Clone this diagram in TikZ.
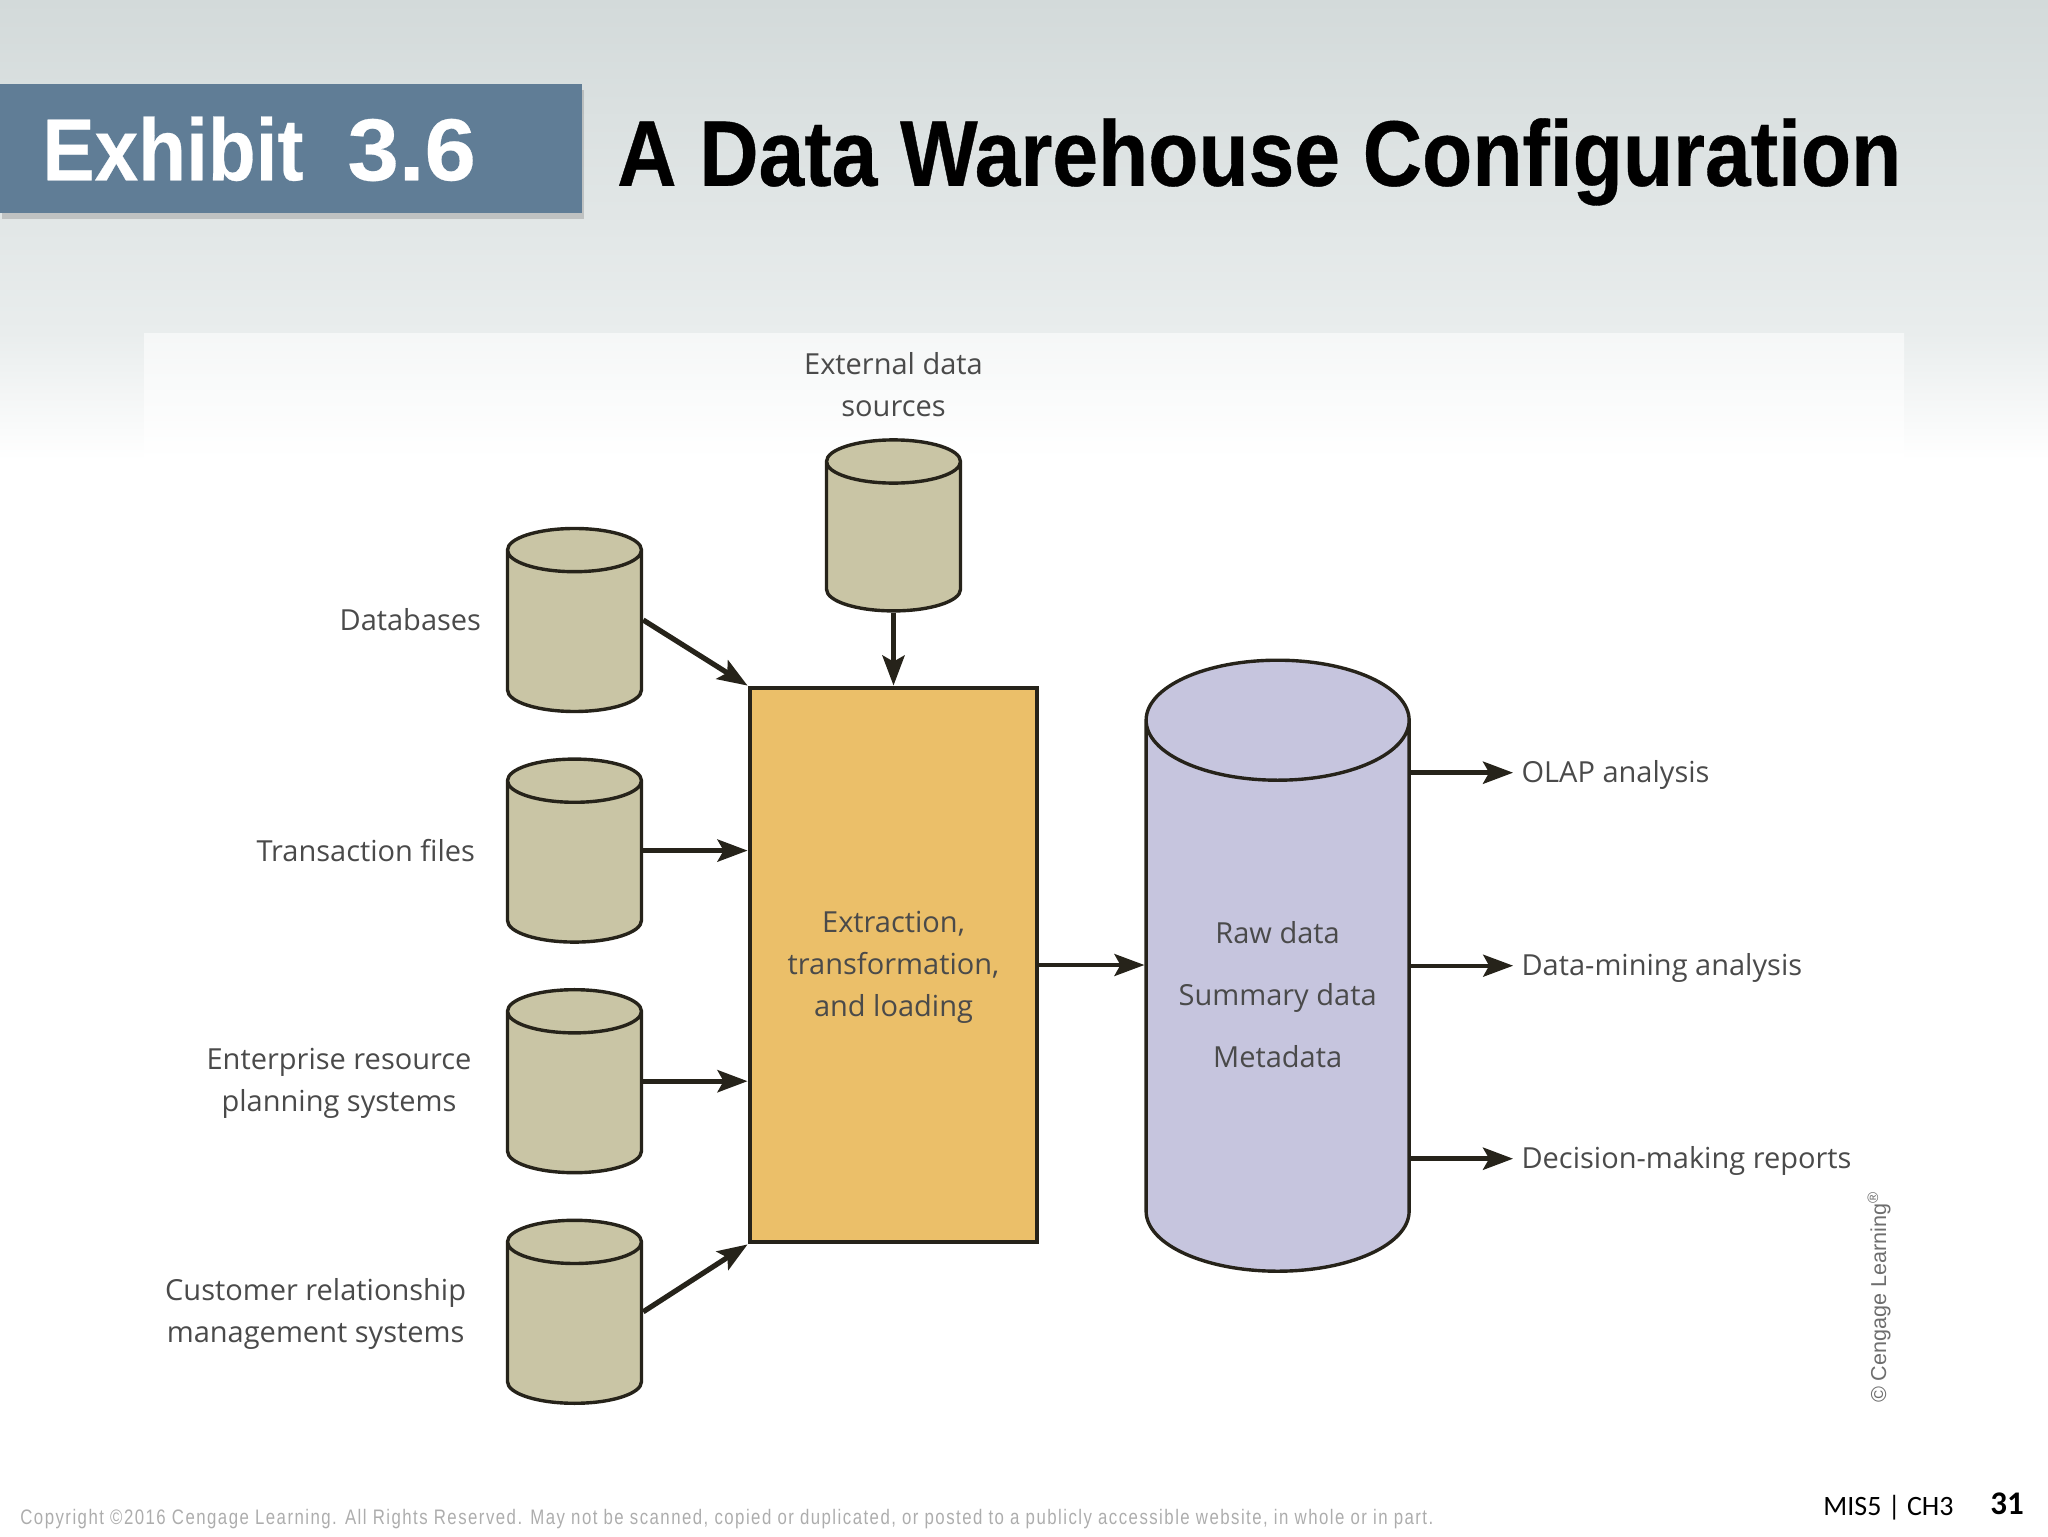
\documentclass[tikz,border=0pt]{standalone}
\usepackage{fontspec}
\setmainfont{Open Sans}
\newfontfamily\headfont[FakeStretch=0.8815,BoldFeatures={FakeBold=0.4}]{Liberation Sans}
\newfontfamily\tabfont[FakeStretch=0.89,BoldFeatures={FakeBold=0.3}]{Liberation Sans}
\newfontfamily\tabnumfont[FakeStretch=1.05,BoldFeatures={FakeBold=0.3}]{Liberation Sans}
\newfontfamily\notefont[FakeStretch=0.8,LetterSpace=7]{Liberation Sans}
\newfontfamily\pagefont{Carlito}
\usetikzlibrary{positioning,shapes.geometric,arrows.meta,shadows}

\definecolor{bgtop}{HTML}{D3DADA}
\definecolor{bgmid}{HTML}{E9EDED}
\definecolor{tabblue}{HTML}{607D96}
\definecolor{srcfill}{HTML}{C9C5A5}
\definecolor{etlfill}{HTML}{EBBF69}
\definecolor{whfill}{HTML}{C6C5DE}
\definecolor{inkdark}{HTML}{26231A}
\definecolor{lblgray}{HTML}{4A4A4A}

\tikzset{
  srccyl/.style={shape=cylinder, shape border rotate=90, draw=inkdark, line width=1.7pt,
    cylinder uses custom fill, cylinder body fill=srcfill, cylinder end fill=srcfill,
    shape aspect=3.6, inner sep=3pt, minimum width=67pt, minimum height=91.5pt},
  flow/.style={draw=inkdark, line width=2.6pt, -{Stealth[length=15pt,width=11pt,inset=3pt]}},
  thinflow/.style={flow, line width=1.9pt},
  lbl/.style={inner sep=0pt, text=lblgray, font=\fontsize{14.5}{21}\selectfont, align=center},
  outlbl/.style={lbl, text height=13pt, text depth=3.4pt},
}

\begin{document}
\begin{tikzpicture}[x=0.5pt, y=-0.5pt]

    \useasboundingbox (0,0) rectangle (2048,1536);
    \shade[top color=bgtop, bottom color=bgmid] (0,0) rectangle (2048,333);
    \shade[top color=bgmid, bottom color=white] (0,333) rectangle (2048,460);
    \shade[top color=bgmid!45!white, bottom color=white] (144,333) rectangle (1904,460);

    \node[fill=tabblue, minimum width=291pt, minimum height=64.5pt, anchor=north west,
      inner xsep=21pt, inner ysep=0pt, text width=249pt, text=white,
      font=\fontsize{44}{44}\tabfont\bfseries,
      drop shadow={shadow xshift=1pt, shadow yshift=-3pt, opacity=.35}] (exhibit) at (0,84) {Exhibit\hspace{.5em}{\tabnumfont\bfseries 3.6}};
    \node[right=17pt of exhibit, yshift=-6.5pt, inner sep=0pt,
      font=\fontsize{46.6}{46.6}\headfont\bfseries] (title) {A Data Warehouse Configuration};

    \node[rectangle, draw=inkdark, fill=etlfill, line width=2.4pt, minimum width=143.5pt,
      minimum height=277pt] (etl) at (893.5,965) {};
    \node[lbl] (etltext) at ([yshift=-1.3pt]etl.center) {Extraction,\\transformation,\\and loading};

    \node[srccyl, left=52.2pt of etl, yshift=49.15pt] (trans) {};
    \node[srccyl, above=22.1pt of trans] (db) {};
    \node[srccyl, below=22.1pt of trans] (erp) {};
    \node[srccyl, below=22.1pt of erp] (crm) {};
    \node[srccyl, above=36.5pt of etl, minimum height=85.5pt] (ext) {};

    \node[shape=cylinder, shape border rotate=90, draw=inkdark, line width=1.7pt,
      cylinder uses custom fill, cylinder body fill=whfill, cylinder end fill=whfill,
      shape aspect=10, inner sep=3pt, minimum width=131.5pt, minimum height=305.5pt,
      right=52.5pt of etl, yshift=-20.25pt] (wh) {};
    \node[lbl, font=\fontsize{14.5}{31}\selectfont] (whtext) at ([yshift=-14.5pt]wh.shape center) {Raw data\\Summary data\\Metadata};

    \node[lbl, left=46.5pt of db.shape center] (dblbl) {Databases};
    \node[lbl, left=49.5pt of trans.shape center] (translbl) {Transaction files};
    \node[lbl, left=51.3pt of erp.shape center, yshift=-1.3pt] (erplbl) {Enterprise resource\\planning systems};
    \node[lbl, left=54pt of crm.shape center, yshift=-1.3pt] (crmlbl) {Customer relationship\\management systems};
    \node[lbl, above=10.5pt of ext] (extlbl) {External data\\sources};

    \node[outlbl, right=121.75pt of wh.shape center, yshift=96.5pt] (olap) {OLAP analysis};
    \node[outlbl, right=121.75pt of wh.shape center] (mining) {Data-mining analysis};
    \node[outlbl, right=121.75pt of wh.shape center, yshift=-96.5pt] (reports) {Decision-making reports};

    \draw[flow] (db.east |- db.shape center) -- (etl.north west);
    \draw[flow] (trans.east |- trans.shape center) -- (etl.west |- trans.shape center);
    \draw[flow] (erp.east |- erp.shape center) -- (etl.west |- erp.shape center);
    \draw[flow] (crm.east |- crm.shape center) -- (etl.south west);
    \draw[flow] (ext.south) -- (etl.north);
    \draw[thinflow] (etl.east) -- (wh.west |- etl.east);
    \draw[flow] (wh.east |- olap.west) -- ([xshift=-4pt]olap.west);
    \draw[thinflow] (wh.east |- mining.west) -- ([xshift=-4pt]mining.west);
    \draw[flow] (wh.east |- reports.west) -- ([xshift=-4pt]reports.west);

    \node[rotate=90, inner sep=0pt, text=lblgray!80, font=\fontsize{10.8}{11}\fontspec{Liberation Sans}] (credit) at (1879,1297) {© Cengage Learning\textsuperscript{®}};
    \node[anchor=west, inner sep=0pt, text=black!32, font=\fontsize{10.5}{11}\notefont] (copynote) at (20,1519)
      {Copyright ©2016 Cengage Learning. All Rights Reserved. May not be scanned, copied or duplicated, or posted to a publicly accessible website, in whole or in part.};
    \node[anchor=west, inner sep=0pt, font=\fontsize{14}{15}\pagefont] (chapter) at (1823,1508) {MIS5 | CH3};
    \node[anchor=west, inner sep=0pt, font=\fontsize{16.5}{17}\pagefont\bfseries] (pageno) at (1990,1504) {31};

\end{tikzpicture}
\end{document}
